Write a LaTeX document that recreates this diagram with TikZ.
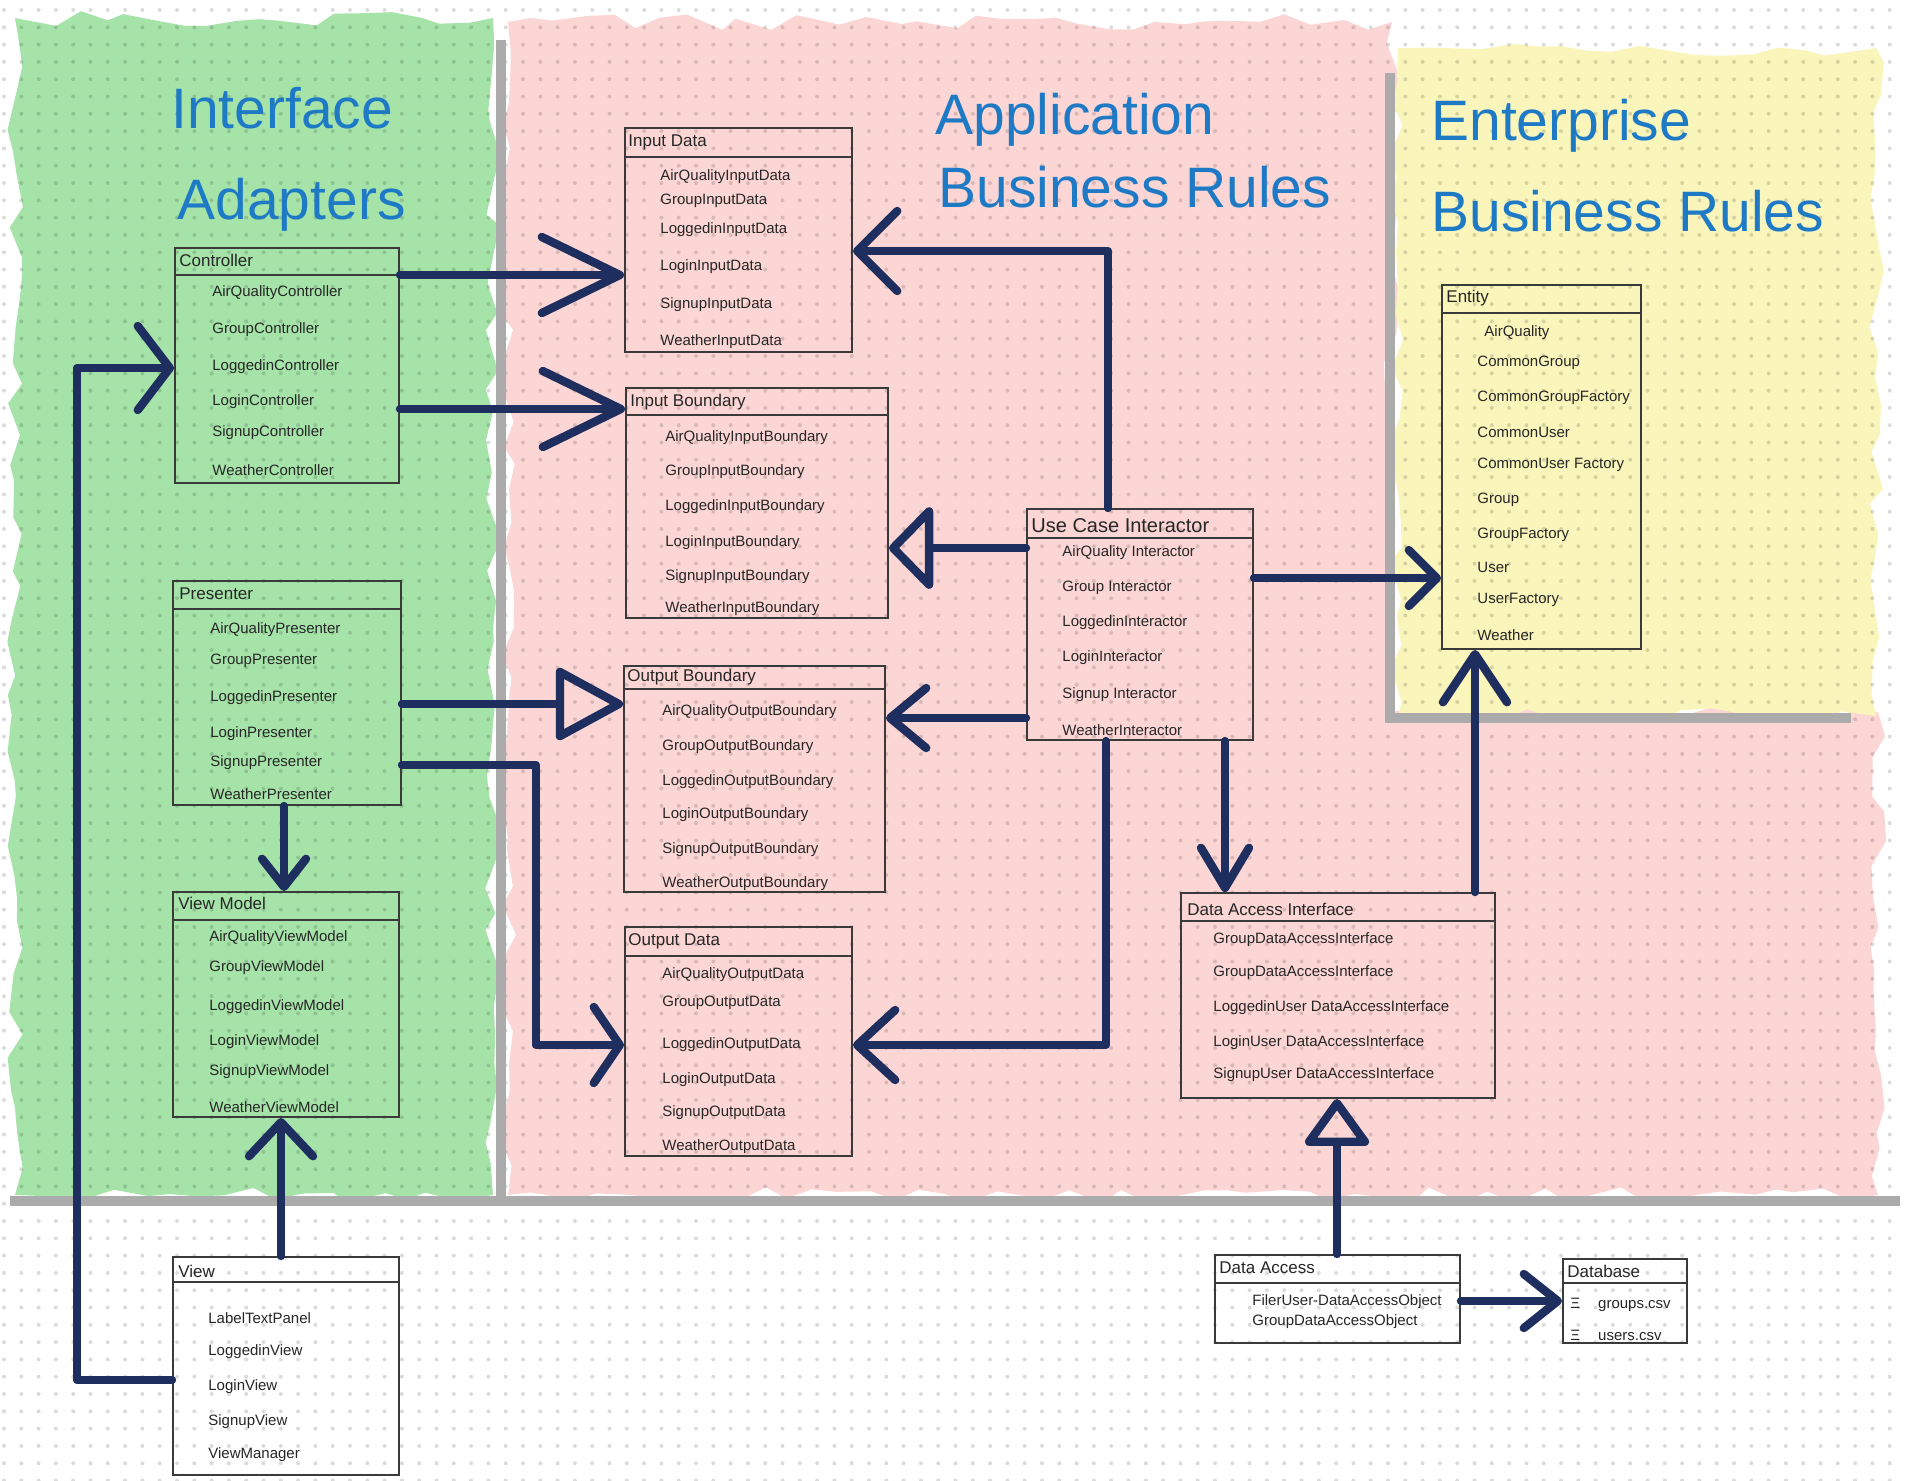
\documentclass[tikz,border=0pt]{standalone}
\usepackage{fontspec}
\setmainfont{Liberation Sans}
\usetikzlibrary{arrows.meta}
\usetikzlibrary{fit}
\usetikzlibrary{decorations.pathmorphing}

\definecolor{adaptgreen}{HTML}{A6E3A9}
\definecolor{apppink}{HTML}{FCD6D4}
\definecolor{entyellow}{HTML}{FAF5BB}
\definecolor{titleblue}{HTML}{1F7AC6}
\definecolor{arrownavy}{HTML}{1E2E5E}
\definecolor{divgray}{HTML}{ABABAB}
\definecolor{boxgray}{HTML}{3A3A3A}

\tikzset{
  blob/.style={decorate, decoration={random steps, segment length=13pt, amplitude=4pt}},
  divider/.style={divgray, line width=5pt},
  griddots/.style={black, opacity=0.14, line width=2pt, line cap=round, dash pattern=on 0pt off 8.65pt},
  box/.style={draw=boxgray, line width=1pt, inner sep=0pt},
  headline/.style={boxgray, line width=1pt},
  head/.style={anchor=west, inner sep=0pt, text=black!85, font=\fontsize{8.5}{10}\selectfont},
  item/.style={anchor=west, inner sep=0pt, text=black!85, font=\fontsize{7.5}{9}\selectfont},
  layer/.style={anchor=base west, inner sep=0pt, text=titleblue, font=\fontsize{28.5}{32}\selectfont},
  conn/.style={arrownavy, line width=4.2pt, line cap=round, line join=round},
  chev/.style 2 args={-{Straight Barb[length=#1,width=#2,round]}},
  tri/.style 2 args={-{Triangle[open,length=#1,width=#2,round]}},
}

\begin{document}
\begin{tikzpicture}[x=0.5pt, y=-0.5pt]
  \pgfmathsetseed{12}
  \useasboundingbox (0,0) rectangle (1910,1480);
  \fill[white] (0,0) rectangle (1910,1480);

  % layers
  \fill[adaptgreen, blob] (15,18) rectangle (493,1195);
  \fill[apppink, blob] (508,22) -- (1392,22) -- (1392,712) -- (1878,712) -- (1878,1195) -- (508,1195) -- cycle;
  \fill[entyellow, blob] (1398,48) rectangle (1876,716);

  \foreach \r in {0,...,85}
    \draw[griddots] (4,10+17.3*\r) -- (1906,10+17.3*\r);

  \draw[divider] (501,40) -- (501,1196);
  \draw[divider] (1390,73) -- (1390,718) -- (1851,718);
  \draw[divider] (10,1201) -- (1900,1201);

  \node[layer] (ia1) at (171,128) {Interface};
  \node[layer] (ia2) at (177,219) {Adapters};
  \node[layer] (abr1) at (935,134) {Application};
  \node[layer] (abr2) at (938,207) {Business Rules};
  \node[layer] (ebr1) at (1431,140) {Enterprise};
  \node[layer] (ebr2) at (1431,231) {Business Rules};

  % interface adapters
  \node[box, fit={(175,248) (399,483)}] (ctrl) {};
  \draw[headline] (ctrl.west |- 0,275) -- (ctrl.east |- 0,275);
  \node[head] (ctrl-h) at (179,260) {Controller};
  \foreach \t/\y [count=\i] in {AirQualityController/293, GroupController/330, LoggedinController/367,
      LoginController/402, SignupController/433, WeatherController/470}
    \node[item] (ctrl\i) at (212,\y) {\t};

  \node[box, fit={(173,581) (401,805)}] (pres) {};
  \draw[headline] (pres.west |- 0,609) -- (pres.east |- 0,609);
  \node[head] (pres-h) at (179,594) {Presenter};
  \foreach \t/\y [count=\i] in {AirQualityPresenter/630, GroupPresenter/661, LoggedinPresenter/698,
      LoginPresenter/734, SignupPresenter/763, WeatherPresenter/794}
    \node[item] (pres\i) at (210,\y) {\t};

  \node[box, fit={(173,892) (399,1117)}] (vm) {};
  \draw[headline] (vm.west |- 0,920) -- (vm.east |- 0,920);
  \node[head] (vm-h) at (178,903) {View Model};
  \foreach \t/\y [count=\i] in {AirQualityViewModel/938, GroupViewModel/968, LoggedinViewModel/1007,
      LoginViewModel/1042, SignupViewModel/1072, WeatherViewModel/1107}
    \node[item] (vm\i) at (209,\y) {\t};

  \node[box, fit={(173,1257) (399,1475)}] (view) {};
  \draw[headline] (view.west |- 0,1282) -- (view.east |- 0,1282);
  \node[head] (view-h) at (178,1271) {View};
  \foreach \t/\y [count=\i] in {LabelTextPanel/1318, LoggedinView/1352, LoginView/1387,
      SignupView/1422, ViewManager/1455}
    \node[item] (view\i) at (208,\y) {\t};

  % application business rules
  \node[box, fit={(625,128) (852,352)}] (idata) {};
  \draw[headline] (idata.west |- 0,157) -- (idata.east |- 0,157);
  \node[head] (idata-h) at (628,142) {Input Data};
  \foreach \t/\y [count=\i] in {AirQualityInputData/177, GroupInputData/201, LoggedinInputData/230,
      LoginInputData/267, SignupInputData/305, WeatherInputData/342}
    \node[item] (idata\i) at (660,\y) {\t};

  \node[box, fit={(626,388) (888,618)}] (ibound) {};
  \draw[headline] (ibound.west |- 0,415) -- (ibound.east |- 0,415);
  \node[head] (ibound-h) at (630,402) {Input Boundary};
  \foreach \t/\y [count=\i] in {AirQualityInputBoundary/438, GroupInputBoundary/472, LoggedinInputBoundary/507,
      LoginInputBoundary/543, SignupInputBoundary/577, WeatherInputBoundary/609}
    \node[item] (ibound\i) at (665,\y) {\t};

  \node[box, fit={(624,666) (885,892)}] (obound) {};
  \draw[headline] (obound.west |- 0,689) -- (obound.east |- 0,689);
  \node[head] (obound-h) at (627,677) {Output Boundary};
  \foreach \t/\y [count=\i] in {AirQualityOutputBoundary/712, GroupOutputBoundary/747, LoggedinOutputBoundary/782,
      LoginOutputBoundary/815, SignupOutputBoundary/850, WeatherOutputBoundary/884}
    \node[item] (obound\i) at (662,\y) {\t};

  \node[box, fit={(625,927) (852,1156)}] (odata) {};
  \draw[headline] (odata.west |- 0,956) -- (odata.east |- 0,956);
  \node[head] (odata-h) at (628,941) {Output Data};
  \foreach \t/\y [count=\i] in {AirQualityOutputData/975, GroupOutputData/1003, LoggedinOutputData/1045,
      LoginOutputData/1080, SignupOutputData/1113, WeatherOutputData/1147}
    \node[item] (odata\i) at (662,\y) {\t};

  \node[box, fit={(1027,509) (1253,740)}] (inter) {};
  \draw[headline] (inter.west |- 0,538) -- (inter.east |- 0,538);
  \node[head, font=\fontsize{10}{12}\selectfont] (inter-h) at (1031,526) {Use Case Interactor};
  \foreach \t/\y [count=\i] in {AirQuality Interactor/553, Group Interactor/588, LoggedinInteractor/623,
      LoginInteractor/658, Signup Interactor/695, WeatherInteractor/730}
    \node[item] (inter\i) at (1062,\y) {\t};

  \node[box, fit={(1181,893) (1495,1098)}] (dai) {};
  \draw[headline] (dai.west |- 0,921) -- (dai.east |- 0,921);
  \node[head] (dai-h) at (1187,909) {Data Access Interface};
  \foreach \t/\y [count=\i] in {GroupDataAccessInterface/940, GroupDataAccessInterface/973,
      LoggedinUser DataAccessInterface/1008, LoginUser DataAccessInterface/1043,
      SignupUser DataAccessInterface/1075}
    \node[item] (dai\i) at (1213,\y) {\t};

  % enterprise business rules
  \node[box, fit={(1442,285) (1641,649)}] (entity) {};
  \draw[headline] (entity.west |- 0,313) -- (entity.east |- 0,313);
  \node[head] (entity-h) at (1446,298) {Entity};
  \foreach \t/\y [count=\i] in {CommonGroup/363, CommonGroupFactory/398, CommonUser/432,
      CommonUser Factory/465, Group/500, GroupFactory/535, User/567, UserFactory/600, Weather/635}
    \node[item] (entity\i) at (1477,\y) {\t};
  \node[item] (entity0) at (1484,333) {AirQuality};

  % frameworks
  \node[box, fit={(1215,1255) (1460,1343)}] (da) {};
  \draw[headline] (da.west |- 0,1283) -- (da.east |- 0,1283);
  \node[head] (da-h) at (1219,1268) {Data Access};
  \node[item] (da1) at (1252,1302) {FilerUser-DataAccessObject};
  \node[item] (da2) at (1252,1322) {GroupDataAccessObject};

  \node[box, fit={(1563,1259) (1687,1343)}] (db) {};
  \draw[headline] (db.west |- 0,1283) -- (db.east |- 0,1283);
  \node[head] (db-h) at (1567,1271) {Database};
  \node[item] (db1) at (1570,1305) {Ξ\hspace{9pt}groups.csv};
  \node[item] (db2) at (1570,1335) {Ξ\hspace{9pt}users.csv};

  % connectors
  \draw[conn, chev={39pt}{38pt}] (ctrl.east |- 0,275) -- (idata.west |- 0,275);
  \draw[conn, chev={39pt}{38pt}] (ctrl.east |- 0,409) -- (ibound.west |- 0,409);
  \draw[conn, chev={16pt}{42pt}] (view.west |- 0,1380) -| (77,368) -- (ctrl.west |- 0,368);
  \draw[conn, chev={14pt}{22pt}] (pres.south -| 284,0) -- (vm.north -| 284,0);
  \draw[conn, chev={17pt}{32pt}] (view.north -| 281,0) -- (vm.south -| 281,0);
  \draw[conn, tri={36pt}{38pt}] (pres.east |- 0,704) -- (obound.west |- 0,704);
  \draw[conn, chev={13pt}{38pt}] (pres.east |- 0,765) -| (536,1045) -- (odata.west |- 0,1045);
  \draw[conn, chev={20pt}{40pt}] (inter.north -| 1108,0) |- (idata.east |- 0,251);
  \draw[conn, tri={23pt}{46pt}] (inter.west |- 0,548) -- (ibound.east |- 0,548);
  \draw[conn, chev={18pt}{30pt}] (inter.west |- 0,718) -- (obound.east |- 0,718);
  \draw[conn, chev={19pt}{35pt}] (inter.south -| 1106,0) |- (odata.east |- 0,1045);
  \draw[conn, chev={14pt}{28pt}] (inter.east |- 0,578) -- (entity.west |- 0,578);
  \draw[conn, chev={20pt}{24pt}] (inter.south -| 1225,0) -- (dai.north -| 1225,0);
  \draw[conn, chev={24pt}{32pt}] (dai.north -| 1475,0) -- (entity.south -| 1475,0);
  \draw[conn, tri={25pt}{35pt}] (da.north -| 1337,0) -- (dai.south -| 1337,0);
  \draw[conn, chev={17pt}{27pt}] (da.east |- 0,1301) -- (db.west |- 0,1301);
\end{tikzpicture}
\end{document}
